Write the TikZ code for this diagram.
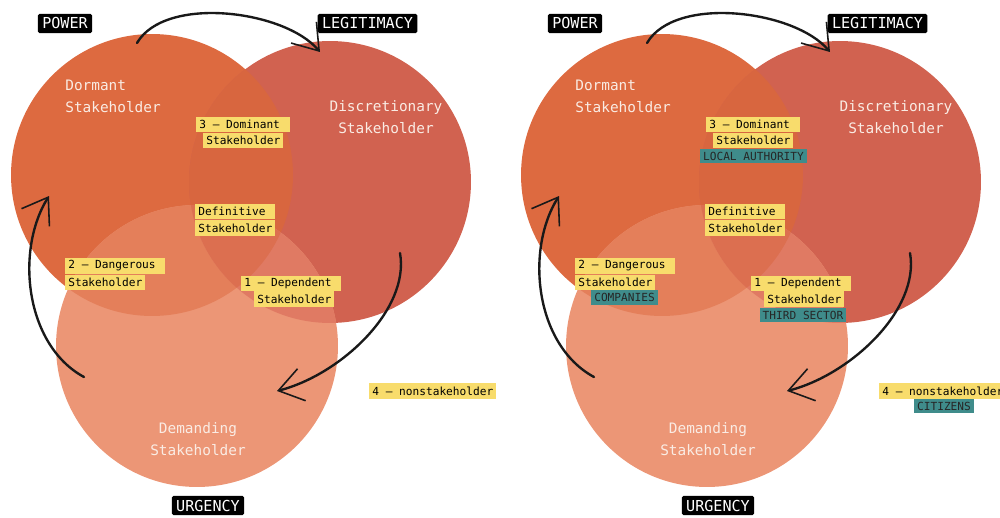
\documentclass[tikz,border=0pt]{standalone}
\usepackage{fontspec}
\usetikzlibrary{arrows.meta}
\newfontfamily\stkmono{DejaVu Sans Mono}
\newcommand{\whitelabelfont}{\stkmono\fontsize{8.2}{12.5}\selectfont}
\newcommand{\taglabelfont}{\stkmono\fontsize{6.35}{9.6}\selectfont}
\newcommand{\caplabelfont}{\stkmono\fontsize{8.6}{10}\selectfont}
\definecolor{cP}{HTML}{DD6A40}
\definecolor{cL}{HTML}{D16250}
\definecolor{cU}{HTML}{EC9676}
\definecolor{cPL}{HTML}{D8663F}
\definecolor{cPU}{HTML}{E47F5A}
\definecolor{cLU}{HTML}{E07A63}
\definecolor{cPLU}{HTML}{DC6F50}
\definecolor{cY}{HTML}{F8DC6C}
\definecolor{cT}{HTML}{3F8C8B}
\definecolor{cW}{RGB}{250,236,228}
\def\R{2.82cm}
\tikzset{
  wlab/.style={text=cW, font=\whitelabelfont, inner sep=0pt},
  hl/.style={fill=cY, text=black, font=\taglabelfont, inner xsep=1.7pt, inner ysep=0pt, minimum height=8.9pt, anchor=west},
  tl/.style={fill=cT, text=black!85, font=\taglabelfont, inner xsep=1.7pt, inner ysep=0pt, minimum height=8.4pt},
  capbox/.style={fill=black, text=white, font=\caplabelfont, inner xsep=2.5pt, inner ysep=0pt, minimum height=11pt, rounded corners=1pt},
  arr/.style={draw=black!90, line width=1.35pt, line cap=round, -{Straight Barb[length=0.48cm, width=0.66cm, line width=0.9pt]}},
}
\newcommand{\stakediagram}{%
  \coordinate (cp) at (152,175);
  \coordinate (cl) at (330,182);
  \coordinate (cu) at (197,346);
  \fill[cP] (cp) circle[radius=\R];
  \fill[cL] (cl) circle[radius=\R];
  \fill[cU] (cu) circle[radius=\R];
  \begin{scope}\clip (cp) circle[radius=\R]; \fill[cPL] (cl) circle[radius=\R]; \end{scope}
  \begin{scope}\clip (cp) circle[radius=\R]; \fill[cPU] (cu) circle[radius=\R]; \end{scope}
  \begin{scope}\clip (cl) circle[radius=\R]; \fill[cLU] (cu) circle[radius=\R]; \end{scope}
  \begin{scope}\clip (cp) circle[radius=\R]; \clip (cl) circle[radius=\R]; \fill[cPLU] (cu) circle[radius=\R]; \end{scope}
  % captions
  \node[capbox] (power) at (65,23.5) {POWER};
  \node[capbox] (legit) at (367.5,23.5) {LEGITIMACY};
  \node[capbox] (urg) at (208,505.5) {URGENCY};
  % white labels
  \node[wlab, align=left, anchor=west] (dormant) at (65,96.5) {Dormant\\Stakeholder};
  \node[wlab, align=center] (discr) at (386,117) {Discretionary\\Stakeholder};
  \node[wlab, align=center] (demand) at (198,439) {Demanding\\Stakeholder};
  % yellow tags
  \node[hl] (dom1) at (196,124.5) {3 – Dominant\hphantom{x}};
  \node[hl] (dom2) at (203,140.5) {Stakeholder};
  \node[hl] (def1) at (195,211.5) {Definitive\hphantom{x}};
  \node[hl] (def2) at (195,228) {Stakeholder};
  \node[hl] (dan1) at (65,266) {2 – Dangerous\hphantom{x}};
  \node[hl] (dan2) at (65,282.5) {Stakeholder};
  \node[hl] (dep1) at (241,283.5) {1 – Dependent\hphantom{x}};
  \node[hl] (dep2) at (254,299) {Stakeholder};
  \node[hl] (non) at (369,391) {4 – nonstakeholder};
  % arrows
  \coordinate (ta0) at (137,43);
  \coordinate (ta1) at (320,52);
  \draw[arr] (ta0) .. controls (165,-5) and (285,10) .. (ta1);
  \coordinate (la0) at (84,377);
  \coordinate (la1) at (49,196);
  \draw[arr] (la0) .. controls (25,345) and (15,250) .. (la1);
  \coordinate (ra0) at (400,253);
  \coordinate (ra1) at (277,391);
  \draw[arr] (ra0) .. controls (410,310) and (340,375) .. (ra1);
}
\begin{document}
\begin{tikzpicture}[x=0.02cm, y=-0.02cm]
\useasboundingbox (0,0) rectangle (1000,517);
\begin{scope}[name prefix=L-]
  \stakediagram
\end{scope}
\begin{scope}[shift={(510,0)}, name prefix=R-]
  \stakediagram
  \node[tl] (auth) at (243.5,156) {LOCAL AUTHORITY};
  \node[tl] (comp) at (114.5,297.5) {COMPANIES};
  \node[tl] (third) at (293,315) {THIRD SECTOR};
  \node[tl] (citi) at (434,406) {CITIZENS};
\end{scope}
\end{tikzpicture}
\end{document}
